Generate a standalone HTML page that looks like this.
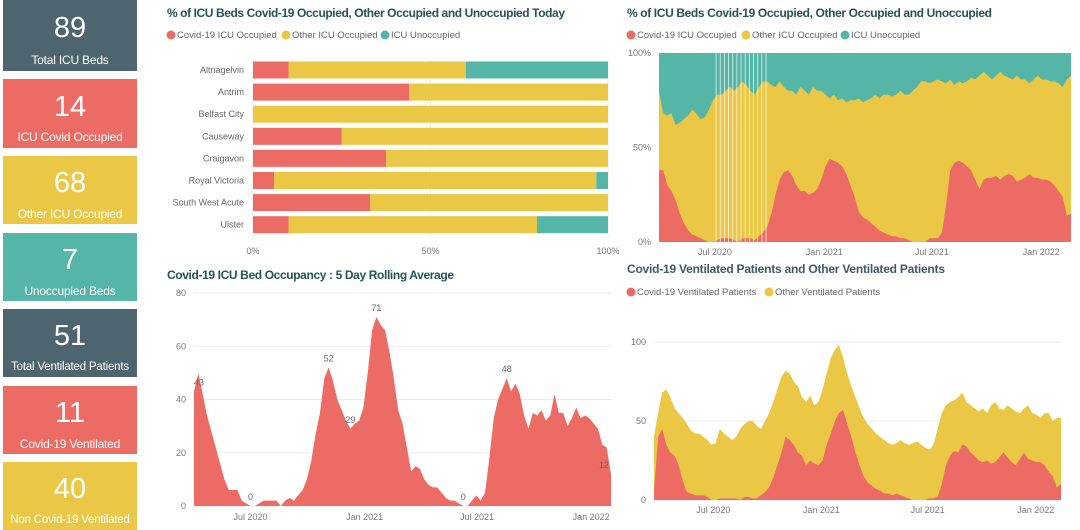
<!DOCTYPE html>
<html><head><meta charset="utf-8">
<style>
html,body{margin:0;padding:0;background:#fff;width:1080px;height:530px;overflow:hidden;font-family:"Liberation Sans",sans-serif}
.card{position:absolute;left:3px;width:134px;color:#fff;text-align:center}
.card .num{position:absolute;left:0;right:0;font-size:29px;line-height:30px}
.card .lbl{position:absolute;left:0;right:0;font-size:12px;line-height:14px;white-space:nowrap;letter-spacing:-0.2px}
svg{position:absolute;left:0;top:0}
</style></head><body>
<div class="card" style="top:0;height:71px;background:#4E6570"><div class="num" style="top:13px">89</div><div class="lbl" style="top:53px">Total ICU Beds</div></div>
<div class="card" style="top:79px;height:69px;background:#EC6B64"><div class="num" style="top:13px">14</div><div class="lbl" style="top:51px">ICU Covid Occupied</div></div>
<div class="card" style="top:156px;height:68px;background:#EAC744"><div class="num" style="top:12px">68</div><div class="lbl" style="top:51px">Other ICU Occupied</div></div>
<div class="card" style="top:233px;height:68px;background:#55B5A7"><div class="num" style="top:12px">7</div><div class="lbl" style="top:51px">Unoccupied Beds</div></div>
<div class="card" style="top:309px;height:68px;background:#4E6570"><div class="num" style="top:12px">51</div><div class="lbl" style="top:51px;font-size:11.5px">Total Ventilated Patients</div></div>
<div class="card" style="top:386px;height:68px;background:#EC6B64"><div class="num" style="top:12px">11</div><div class="lbl" style="top:51px">Covid-19 Ventilated</div></div>
<div class="card" style="top:462px;height:68px;background:#EAC744"><div class="num" style="top:12px">40</div><div class="lbl" style="top:51px;font-size:11.5px">Non Covid-19 Ventilated</div></div>

<svg id="s" width="1080" height="530" xmlns="http://www.w3.org/2000/svg" font-family="Liberation Sans, sans-serif">
<text x="167" y="17" font-size="12" font-weight="bold" fill="#245454" textLength="398">% of ICU Beds Covid-19 Occupied, Other Occupied and Unoccupied Today</text>
<text x="627" y="17" font-size="12" font-weight="bold" fill="#245454" textLength="365">% of ICU Beds Covid-19 Occupied, Other Occupied and Unoccupied</text>
<text x="167" y="279" font-size="12" font-weight="bold" fill="#245454" textLength="287">Covid-19 ICU Bed Occupancy : 5 Day Rolling Average</text>
<text x="627" y="273" font-size="12" font-weight="bold" fill="#3F5A66" textLength="318">Covid-19 Ventilated Patients and Other Ventilated Patients</text>
<g id="g"></g>
</svg>
<script>
// ---- data ----
const hospitals=["Altnagelvin","Antrim","Belfast City","Causeway","Craigavon","Royal Victoria","South West Acute","Ulster"];
const barCovid=[10,44,0,25,37.5,6,33,10];
const barOther=[50,56,100,75,62.5,90.7,67,70];
const barUnocc=[40,0,0,0,0,3.3,0,20];
const barTicks=[0,50,100];

const rollVals=[43,50,42,34,28,22,16,10,6,6,6,2,1,0,0,1,2,2,2,2,0,2,3,2,4,6,10,17,27,35,48,52,47,40,36,32,29,31,32,37,50,66,71,68,66,58,48,36,31,22,13,15,14,10,8,7,7,5,3,2,2,1,0,0,2,4,2,5,18,33,40,44,48,43,46,42,34,29,35,34,36,32,34,42,35,35,30,33,37,33,34,33,31,29,23,22,12];
const rollLabelIdx=[0,13,31,36,42,62,72,96];
const rollTicks=[0,20,40,60,80];

const pctCovid=[38,38,30,27,22,15,10,6,4,3,2,1,0,0,1,2,2,2,1,0,2,2,2,1,3,5,8,15,25,33,37,38,35,30,27,27,25,26,28,33,40,44,43,42,40,36,30,24,16,13,12,10,8,6,5,4,3,3,2,2,1,0,0,0,0,2,2,2,5,20,38,42,43,42,40,38,33,28,33,34,34,35,33,35,36,35,32,33,34,36,34,34,33,33,32,30,27,24,14,15];
const pctOccupied=[80,68,67,68,62,63,65,67,70,68,65,66,70,75,78,78,80,82,80,82,85,83,80,78,82,85,85,83,82,85,82,80,80,78,82,80,78,82,80,80,78,76,78,75,76,74,75,75,76,74,75,76,78,76,78,78,77,78,80,78,78,80,82,85,85,84,85,86,85,84,86,83,85,84,85,87,86,88,90,88,86,88,90,88,87,86,88,86,86,84,86,88,86,86,85,85,84,82,86,88];
const pctGapDays=[96,103,110,117,124,131,138,145,152,159,166,173,180];
const pctTicks=[0,50,100];

const ventCovid=[5,40,45,35,30,28,22,12,5,4,3,3,3,2,0,0,1,1,1,1,1,0,2,2,1,1,3,5,8,14,22,30,40,38,35,30,28,22,25,23,22,25,35,42,50,55,57,48,40,30,22,15,11,9,7,6,4,4,3,4,3,2,1,0,0,0,0,1,1,2,10,22,28,31,30,35,34,30,28,25,24,25,23,24,27,30,27,24,22,26,30,26,25,24,24,22,18,15,8,10];
const ventTotal=[40,55,68,70,65,58,55,52,48,44,42,42,40,38,35,36,45,42,40,38,40,45,48,50,50,47,45,50,55,62,70,78,82,80,75,72,65,62,66,60,62,70,80,90,95,98,90,80,72,65,58,52,48,45,42,40,38,36,35,36,38,36,35,36,37,35,33,32,35,45,55,60,62,63,65,68,62,60,58,56,58,55,60,62,58,57,60,58,56,55,58,60,55,54,52,55,55,50,52,52];
const ventTicks=[0,50,100];

const dateTickLabels=["Jul 2020","Jan 2021","Jul 2021","Jan 2022"];
const rollTickDays=[91,275,456,640];
const pctTickDays=[94,278,459,643];
const ventTickDays=[101,285,466,650];

const RED="#EC6B64",YEL="#EAC744",TEAL="#55B5A7",GRID="#EBEBEB",TXT="#777";
const NS="http://www.w3.org/2000/svg";
const G=document.getElementById('g');
function mk(tag,attrs,parent){const e=document.createElementNS(NS,tag);for(const k in attrs)e.setAttribute(k,attrs[k]);(parent||G).appendChild(e);return e;}
function txt(x,y,s,size,anchor,fill){const t=mk('text',{x:x,y:y,'font-size':size,'text-anchor':anchor||'start',fill:fill||TXT});t.textContent=s;return t;}
function legend(x,y,items){let cx=x;items.forEach(it=>{const c=mk('circle',{cx:cx+4,cy:y-3,r:4.5,fill:it[1]});


const t=txt(cx+10,y,it[0],9.5,'start','#666');


cx+=10+it[2]+4;});}

// ---- bar chart ----
legend(167,38,[["Covid-19 ICU Occupied",RED,101],["Other ICU Occupied",YEL,85],["ICU Unoccupied",TEAL,70]]);
const bx=v=>253+v/100*355;
const rowY=i=>70+i*22.1;
barTicks.forEach(t=>{const l=mk('line',{x1:bx(t),x2:bx(t),y1:60,y2:238,stroke:GRID,'stroke-width':1});


const tt=txt(bx(t),254,t+'%',9,'middle');

});
hospitals.forEach((h,i)=>{const y=rowY(i)-8.5;
const lb=txt(244,rowY(i)+3,h,9,'end','#666');


let acc=0;[[barCovid[i],RED],[barOther[i],YEL],[barUnocc[i],TEAL]].forEach(s=>{if(s[0]>0){const r=mk('rect',{x:bx(acc),y:y,width:bx(acc+s[0])-bx(acc),height:17,fill:s[1]});

}acc+=s[0];});});

function areaPath(xs,ysTop,ysBot){let d='M'+xs[0]+','+ysTop[0];for(let i=1;i<xs.length;i++)d+='L'+xs[i]+','+ysTop[i];for(let i=xs.length-1;i>=0;i--)d+='L'+xs[i]+','+ysBot[i];return d+'Z';}

// ---- pct chart ----
legend(627,38,[["Covid-19 ICU Occupied",RED,101],["Other ICU Occupied",YEL,85],["ICU Unoccupied",TEAL,70]]);
const pX0=659,pX1=1071,pY0=242,pY1=53,pDays=693;
const pxd=d=>pX0+d/pDays*(pX1-pX0);
const pyv=v=>pY0-v/100*(pY0-pY1);
const pXs=pctCovid.map((v,i)=>pxd(i*7));
const bg=mk('rect',{x:pX0,y:pY1,width:pX1-pX0,height:pY0-pY1,fill:TEAL});


const pa1=mk('path',{d:areaPath(pXs,pctOccupied.map(pyv),pctOccupied.map(()=>pY0)),fill:YEL});


const pa2=mk('path',{d:areaPath(pXs,pctCovid.map(pyv),pctCovid.map(()=>pY0)),fill:RED});


pctGapDays.forEach(d=>{const l=mk('line',{x1:pxd(d),x2:pxd(d),y1:pY1,y2:pY0,stroke:'#fff','stroke-width':0.8,opacity:0.8});

});
pctTicks.forEach(t=>{const tt=txt(651,pyv(t)+3,t+'%',9,'end');

});
pctTickDays.forEach((d,i)=>{const tt=txt(pxd(d),255,dateTickLabels[i],9,'middle');

});

// ---- rolling chart ----
const rX0=194,rX1=611,rY0=506,rY1=293,rDays=672;
const rxd=d=>rX0+d/rDays*(rX1-rX0);
const ryv=v=>rY0-v/80*(rY0-rY1);
rollTicks.forEach(t=>{const l=mk('line',{x1:rX0,x2:rX1,y1:ryv(t),y2:ryv(t),stroke:GRID,'stroke-width':1});


const tt=txt(186,ryv(t)+3,String(t),9,'end');

});
const rXs=rollVals.map((v,i)=>rxd(i*7));
const ra=mk('path',{d:areaPath(rXs,rollVals.map(ryv),rollVals.map(()=>rY0)),fill:RED});


rollLabelIdx.forEach(i=>{const tt=txt(Math.min(Math.max(rXs[i],199),604),ryv(rollVals[i])-6,String(rollVals[i]),9,'middle','#666');

});
rollTickDays.forEach((d,i)=>{const tt=txt(rxd(d),520,dateTickLabels[i],9,'middle');

});

// ---- vent chart ----
legend(627,295,[["Covid-19 Ventilated Patients",RED,124],["Other Ventilated Patients",YEL,110]]);
const vX0=654,vX1=1061,vY0=500,vY1=342,vDays=693;
const vxd=d=>vX0+d/vDays*(vX1-vX0);
const vyv=v=>vY0-v/100*(vY0-vY1);
ventTicks.forEach(t=>{const l=mk('line',{x1:vX0,x2:vX1,y1:vyv(t),y2:vyv(t),stroke:GRID,'stroke-width':1});


const tt=txt(646,vyv(t)+3,String(t),9,'end');

});
const vXs=ventCovid.map((v,i)=>vxd(i*7));
const va1=mk('path',{d:areaPath(vXs,ventTotal.map(vyv),ventTotal.map(()=>vY0)),fill:YEL});


const va2=mk('path',{d:areaPath(vXs,ventCovid.map(vyv),ventCovid.map(()=>vY0)),fill:RED});


ventTickDays.forEach((d,i)=>{const tt=txt(vxd(d),513,dateTickLabels[i],9,'middle');

});
</script>
</body></html>
